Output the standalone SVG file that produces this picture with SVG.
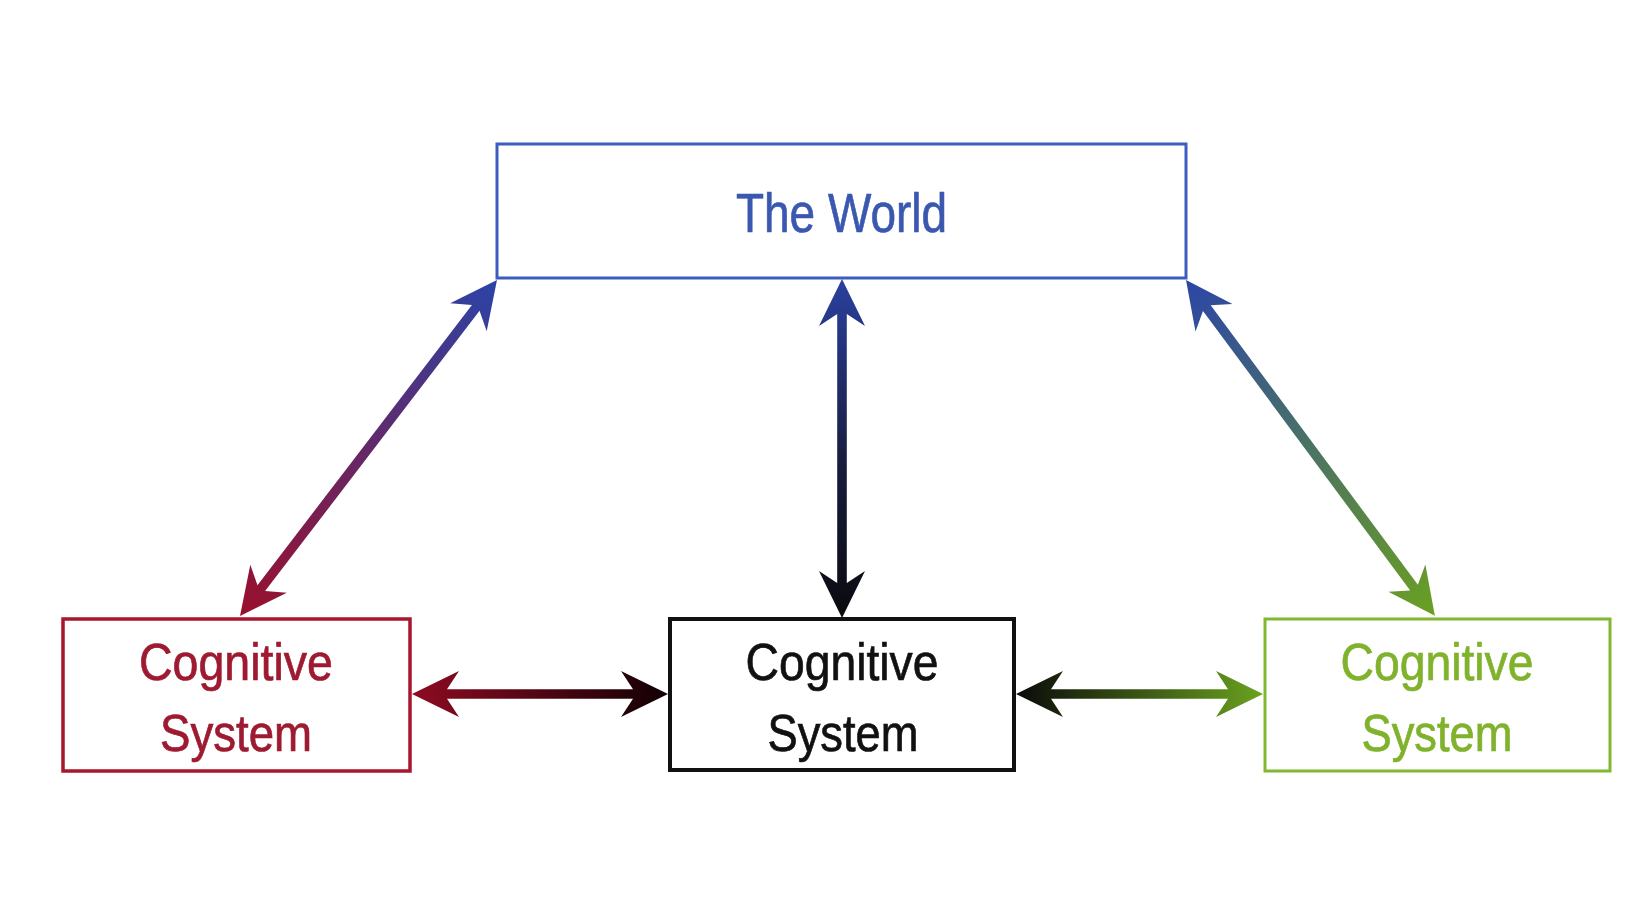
<svg xmlns="http://www.w3.org/2000/svg" width="1652" height="908" viewBox="0 0 1652 908">
  <style>
    .box { fill: #ffffff; }
    .lbl { font-family: "Liberation Sans", Arial, sans-serif; text-anchor: middle; stroke-width: 0.7px; }
    .big { font-size: 56px; }
    .med { font-size: 52px; }
  </style>
  <defs>
    <linearGradient id="gL" gradientUnits="userSpaceOnUse" x1="0" y1="0" x2="423" y2="0">
      <stop offset="0" stop-color="#2c43a6"/><stop offset="1" stop-color="#9a0f2c"/>
    </linearGradient>
    <linearGradient id="gV" gradientUnits="userSpaceOnUse" x1="0" y1="0" x2="339" y2="0">
      <stop offset="0" stop-color="#2a409f"/><stop offset="0.55" stop-color="#181c3c"/><stop offset="1" stop-color="#0a0a0e"/>
    </linearGradient>
    <linearGradient id="gR" gradientUnits="userSpaceOnUse" x1="0" y1="0" x2="418" y2="0">
      <stop offset="0" stop-color="#2c46a6"/><stop offset="1" stop-color="#6aa021"/>
    </linearGradient>
    <linearGradient id="gHL" gradientUnits="userSpaceOnUse" x1="0" y1="0" x2="256" y2="0">
      <stop offset="0" stop-color="#8e0b22"/><stop offset="1" stop-color="#120004"/>
    </linearGradient>
    <linearGradient id="gHR" gradientUnits="userSpaceOnUse" x1="0" y1="0" x2="247" y2="0">
      <stop offset="0" stop-color="#0a0a0a"/><stop offset="1" stop-color="#6aa21f"/>
    </linearGradient>
  </defs>
  <rect width="1652" height="908" fill="#ffffff"/>

  <g id="connectors">
    <path transform="translate(497,280) rotate(127.41)" fill="url(#gL)" d="M0,0 L47,-23 L35,-4.8 L388,-4.8 L376,-23 L423,0 L376,23 L388,4.8 L35,4.8 L47,23 Z"/>
    <path transform="translate(842,279) rotate(90)" fill="url(#gV)" d="M0,0 L47,-23 L35,-4.8 L304,-4.8 L292,-23 L339,0 L292,23 L304,4.8 L35,4.8 L47,23 Z"/>
    <path transform="translate(1186,280) rotate(53.46)" fill="url(#gR)" d="M0,0 L47,-23 L35,-4.8 L383,-4.8 L371,-23 L418,0 L371,23 L383,4.8 L35,4.8 L47,23 Z"/>
    <path transform="translate(412,694)" fill="url(#gHL)" d="M0,0 L47,-23 L35,-4.8 L221,-4.8 L209,-23 L256,0 L209,23 L221,4.8 L35,4.8 L47,23 Z"/>
    <path transform="translate(1016,694)" fill="url(#gHR)" d="M0,0 L47,-23 L35,-4.8 L212,-4.8 L200,-23 L247,0 L200,23 L212,4.8 L35,4.8 L47,23 Z"/>
  </g>

  <g id="world">
    <rect class="box" x="497" y="144" width="689" height="134" stroke="#3c5cc0" stroke-width="3"/>
    <text class="lbl big" x="841.5" y="232" fill="#3a58b0" stroke="#3a58b0" textLength="211" lengthAdjust="spacingAndGlyphs">The World</text>
  </g>

  <g id="cog-red">
    <rect class="box" x="63" y="619" width="347" height="152" stroke="#a8152f" stroke-width="3.5"/>
    <text class="lbl med" x="236" y="680" fill="#9e1a30" stroke="#9e1a30" textLength="194" lengthAdjust="spacingAndGlyphs">Cognitive</text>
    <text class="lbl med" x="236" y="751" fill="#9e1a30" stroke="#9e1a30" textLength="152" lengthAdjust="spacingAndGlyphs">System</text>
  </g>

  <g id="cog-black">
    <rect class="box" x="670" y="619" width="344" height="151" stroke="#111111" stroke-width="4"/>
    <text class="lbl med" x="842" y="680" fill="#111111" stroke="#111111" textLength="193" lengthAdjust="spacingAndGlyphs">Cognitive</text>
    <text class="lbl med" x="843" y="751" fill="#111111" stroke="#111111" textLength="151" lengthAdjust="spacingAndGlyphs">System</text>
  </g>

  <g id="cog-green">
    <rect class="box" x="1265" y="619" width="345" height="152" stroke="#80b830" stroke-width="3"/>
    <text class="lbl med" x="1437" y="680" fill="#80b22c" stroke="#80b22c" textLength="193" lengthAdjust="spacingAndGlyphs">Cognitive</text>
    <text class="lbl med" x="1437" y="751" fill="#80b22c" stroke="#80b22c" textLength="151" lengthAdjust="spacingAndGlyphs">System</text>
  </g>
</svg>
